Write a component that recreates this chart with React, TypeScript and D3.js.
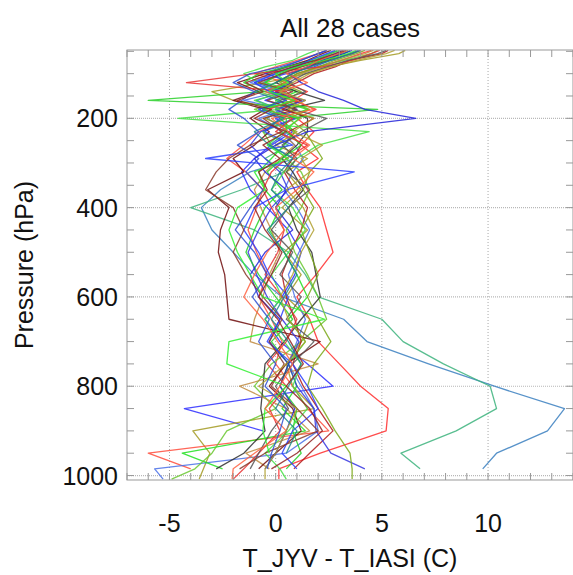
import React from "react";
import * as d3 from "d3";

// Pressure levels (hPa) shared by all profiles
const levels: number[] = [48, 55, 70, 85, 100, 120, 140, 160, 180, 200, 230, 260, 290, 320, 360, 400, 450, 500, 550, 600, 650, 700, 750, 800, 850, 900, 950, 985, 1008];

// Temperature differences T_JYV - T_IASI (C) for each case at each level (null = below surface)
const case01 = [3.4, 3.0, 2.2, 1.0, 0.3, -0.6, 0.4, -0.9, 0.2, -0.4, 0.6, -0.3, 0.9, -1.2, -2.6, -3.5, -3.0, -2.0, -1.0, 0.3, 3.2, 4.3, 7.2, 10.3, 13.6, 12.8, 10.4, 9.75, null];
const case02 = [2.9, 2.5, 1.6, 0.6, -0.4, 0.8, -0.3, 1.2, 0.0, 1.0, -0.6, 0.6, -0.5, 0.4, -1.6, -4.0, -1.0, 0.6, 1.4, 2.0, 5.0, 6.0, 7.9, 10.1, 10.4, 8.5, 5.9, 6.8, null];
const case03 = [4.5, 4.0, 3.1, 2.0, 1.0, 0.4, 1.5, 0.8, 1.9, 1.0, 1.8, 1.2, 2.0, 1.0, 1.5, 2.1, 2.4, 2.7, 1.9, 1.0, 1.6, 2.0, 3.0, 4.0, 5.3, 5.2, 2.1, 0.15, 0.15];
const case04 = [3.9, 3.5, 2.6, 1.8, 0.5, -1.0, 0.5, -0.5, 1.0, 0.0, 0.8, -0.2, -1.0, -1.6, -1.2, -0.4, 0.6, 1.2, 0.9, 0.3, -0.5, 0.2, 1.5, 2.7, -4.3, -0.6, null, null, null];
const case05 = [6.1, 5.8, 4.0, 2.5, 1.5, -0.5, -3.0, -2.0, 0.5, -0.5, 1.0, 0.0, 1.5, 0.5, 1.2, 0.3, 1.5, 0.4, 1.2, 0.5, 1.6, 1.2, 0.5, 0.8, 1.8, -3.9, -3.1, -3.4, -3.6];
const case06 = [2.4, 2.0, 1.0, 0.0, -1.0, 0.5, -0.5, 0.8, -0.3, 0.5, -0.8, -1.5, -2.3, -1.4, -0.6, -0.9, -1.3, -0.9, -0.4, -0.8, -0.2, 0.3, 0.0, 0.8, 1.5, 2.5, -6.0, -4.0, null];
const case07 = [3.1, 2.8, 1.8, 0.8, 0.0, -1.2, 0.2, -1.5, 0.5, -0.8, 0.3, 0.9, 1.3, 0.8, 0.4, 1.0, 1.6, 1.1, 0.6, 0.9, 1.4, 1.0, 0.6, 1.2, 1.8, 2.0, 0.5, -5.7, -5.3];
const case08 = [3.5, 3.2, 2.0, 1.2, 0.2, -0.5, 1.0, 0.0, 1.5, 0.2, 0.9, 0.4, -0.2, -0.8, -0.5, 0.2, -0.3, 0.4, 1.0, 1.5, 0.6, 1.4, 0.6, 1.0, 0.3, 1.4, -4.4, -2.5, null];
const case09 = [4.8, 4.5, 3.2, 2.0, 1.2, 0.0, -0.8, 0.5, -1.0, 0.3, -0.6, -0.2, 0.5, 1.2, 1.6, 1.2, 0.5, 0.9, 1.5, 2.0, 2.4, 1.2, -0.2, -1.0, 0.0, -2.3, -3.0, -3.8, -4.9];
const case10 = [3.3, 3.0, 2.5, 1.5, 0.8, 0.0, 1.0, 2.3, 0.5, 1.5, 1.5, 1.0, 0.3, 0.8, 1.3, 0.6, 1.0, 1.7, 1.9, 2.1, 1.2, 0.4, -0.5, -0.6, -0.7, -0.5, -1.5, -2.8, null];
const case11 = [4.6, 4.2, 3.0, 2.2, 1.2, 0.4, -0.5, 0.8, 0.0, 1.2, 0.2, 0.9, 0.2, -0.5, -1.0, -0.7, -0.2, 0.2, -0.3, -0.6, -1.0, -1.2, 2.0, -1.7, 0.5, 1.6, -1.4, -0.3, null];
const case12 = [5.3, 5.0, 3.5, 2.8, 1.8, 1.0, 0.0, 1.2, 0.3, 1.8, 0.6, 1.2, 0.8, 0.4, 0.9, 1.5, 1.2, 0.7, 0.3, 0.5, 0.9, 1.2, 0.8, 1.3, 2.0, 2.7, 1.6, 0.86, null];
const case13 = [2.6, 2.2, 1.5, 0.5, -0.5, -1.8, -0.8, -2.0, -0.5, -1.2, -0.3, -1.0, -2.0, -1.5, -3.2, -2.2, -2.6, -2.7, -2.4, -2.3, -2.2, 2.1, 0.5, -0.3, 0.8, 1.2, 0.0, -0.8, null];
const case14 = [2.4, 2.0, 1.2, 0.4, -0.5, 0.8, -0.2, 1.4, 0.0, 0.9, -0.7, -1.2, -0.5, 0.2, 0.6, -0.2, -0.8, -1.3, -0.9, -0.4, 0.3, 1.1, 0.6, 1.0, 1.8, 1.9, 2.6, 4.2, null];
const case15 = [4.2, 3.8, 2.8, 2.0, 1.0, 0.2, 1.2, 0.4, 1.6, 0.6, 1.4, 1.8, 2.2, 1.6, 1.3, 1.8, 1.2, 1.6, 2.0, 1.5, 2.0, 2.6, 1.8, 1.5, 2.2, 2.8, 3.5, 3.6, 3.6];
const case16 = [3.0, 2.6, 1.8, 0.5, -0.8, -1.5, -0.5, -6.0, 4.8, 0.5, 0.5, 1.2, 0.3, -0.4, 0.3, -0.5, -1.0, -1.4, -0.8, 0.0, 0.8, -0.2, 0.6, 0.2, 1.0, 0.8, 1.2, 0.5, null];
const case17 = [1.9, 1.5, 0.8, -0.5, -1.5, -0.8, 0.5, -1.0, 0.2, -4.6, 4.4, 2.0, 1.0, 0.4, -0.2, 0.8, 1.4, 0.6, -0.2, 0.3, -0.5, 0.4, 1.2, 0.8, 1.5, 0.6, -0.5, 0.2, 0.5];
const case18 = [3.6, 3.2, 2.2, 1.5, 0.6, 1.2, 2.0, 3.2, 4.2, 6.6, 1.5, 0.0, -1.0, -0.5, 0.5, 0.0, 0.8, -0.5, -1.2, -0.8, 0.2, -0.3, 0.6, 0.2, 0.9, 0.5, 0.0, -0.5, null];
const case19 = [4.9, 4.5, 3.6, 2.2, -1.0, -4.2, 0.5, 1.0, -0.5, 0.8, 0.0, 1.5, 0.5, -0.2, -0.6, -0.2, 0.4, 0.1, -0.5, 0.3, 1.0, 0.5, -0.4, 0.5, -0.3, 0.2, -0.8, -1.5, -2.0];
const case20 = [2.8, 2.4, 1.6, 0.9, 0.0, -1.0, -0.3, 0.5, -0.8, 0.2, -0.5, 0.8, -3.3, 3.7, 0.5, -1.0, -1.5, -0.8, -0.3, 0.6, 0.2, -0.4, 0.8, 1.5, 2.0, 0.8, 0.3, 1.0, null];
const case21 = [4.0, 3.6, 2.4, 1.2, 0.3, -0.8, 0.8, -0.4, 1.0, -0.6, 0.3, -1.2, -2.2, -2.8, -3.3, -2.0, -1.5, -2.0, -1.4, -0.6, 0.3, -0.3, 0.4, -0.2, 1.0, 2.0, -0.5, -1.7, null];
const case22 = [5.2, 4.8, 3.4, 2.4, 1.4, 0.6, 1.4, 0.2, 0.8, 2.4, 1.2, 0.3, 1.0, 0.5, 1.6, 0.6, -0.2, 0.8, 0.2, 1.2, 0.5, 1.8, 0.8, 0.0, 0.6, -0.2, -0.8, -1.2, null];
const case23 = [3.8, 3.4, 2.3, 1.0, 0.0, 0.6, -0.3, 0.9, -0.6, 1.1, 0.4, -0.4, 0.6, -1.0, -0.5, -1.8, -2.2, -1.8, -1.2, -0.6, 2.3, -2.2, -2.3, 0.5, -0.5, -0.6, -0.3, null, null];
const case24 = [3.4, 3.0, 2.0, 1.5, 0.5, 1.5, 0.2, 1.0, 1.8, -0.2, 0.6, 1.6, 0.8, 1.8, 1.0, 0.0, 0.4, -0.4, -1.0, -1.5, -0.6, 0.1, 0.8, 0.2, -0.5, 0.5, -1.0, -2.0, -2.05];
const case25 = [5.6, 5.2, 3.8, 2.6, 1.6, 0.8, 0.2, 1.4, 0.6, 1.8, 0.8, 2.2, 1.2, 1.6, 0.5, 1.3, 1.8, 1.2, 0.8, 0.2, 0.6, 1.4, 0.5, -0.8, 1.0, 0.5, 0.0, -0.5, -0.5];
const case26 = [4.0, 3.6, 2.6, 1.6, 0.8, 0.0, -1.0, 0.2, -0.6, 0.4, -1.0, -0.3, 0.8, 0.2, -0.2, 0.6, -0.4, 0.4, 1.0, 0.4, -0.2, 0.6, 1.2, 0.6, 0.0, 1.0, 0.5, null, null];
const case27 = [2.4, 2.0, 1.2, 0.2, -1.2, -2.0, -1.0, -1.6, -2.2, -1.5, -0.8, -1.8, -0.8, -1.4, -0.6, -1.2, -1.9, -1.0, -0.4, -1.1, -0.3, -0.8, 0.0, -0.5, 0.5, 0.2, -0.2, -0.4, null];
const case28 = [3.2, 2.8, 1.9, 0.8, -0.2, -1.4, -0.6, -1.8, -0.2, -1.0, 0.5, -0.6, 0.2, -0.8, -0.4, -1.0, -0.5, 0.3, -0.2, -0.8, 0.1, 0.7, 1.3, 0.5, 1.6, 2.2, 1.0, -0.2, null];

const cases: (number | null)[][] = [
  case01, case02, case03, case04, case05, case06, case07, case08, case09, case10,
  case11, case12, case13, case14, case15, case16, case17, case18, case19, case20,
  case21, case22, case23, case24, case25, case26, case27, case28,
];

const caseColors: string[] = [
  "#3a7fbf", "#3cb37d", "#ff2d2d", "#2b2bff", "#a39a22", "#ff4b3b", "#4a70e8", "#1ee01e",
  "#6ac830", "#2e2e2e", "#c08a40", "#b01818", "#6e0c0c", "#3535e0", "#7aa818", "#28d028",
  "#45e045", "#2222d8", "#e83232", "#2a40ff", "#8a3a2a", "#555555", "#30f030", "#ff6040",
  "#b0a030", "#208a8a", "#3050d0", "#902222",
];

const xTickValues: number[] = [-5, 0, 5, 10];
const yTickValues: number[] = [200, 400, 600, 800, 1000];
const titleText = "All 28 cases";
const xLabel = "T_JYV - T_IASI (C)";
const yLabel = "Pressure (hPa)";

const W = 573;
const H = 575;
const left = 127;
const right = 573;
const top = 50;
const bottom = 480;

export default function App() {
  const x = d3.scaleLinear().domain([-7, 14]).range([left, right]);
  const y = d3.scaleLinear().domain([47, 1010]).range([top, bottom]);

  const line = d3
    .line<[number, number | null]>()
    .defined((d) => d[1] !== null)
    .x((d) => x(d[1] as number))
    .y((d) => y(d[0]));

  const xMinor = d3.range(-7, 15, 1);
  const yMinor = d3.range(50, 1001, 50);
  const fam = "'Liberation Sans', Arial, Helvetica, sans-serif";

  return (
    <svg width={W} height={H} style={{ position: "absolute", left: 0, top: 0, background: "#fff" }}>
      <defs>
        <clipPath id="plotclip">
          <rect x={left} y={top} width={right - left} height={bottom - top} />
        </clipPath>
      </defs>
      <rect x={0} y={0} width={W} height={H} fill="#fff" />
      {xTickValues.map((v) => (
        <line key={"gx" + v} x1={x(v)} x2={x(v)} y1={top} y2={bottom} stroke="#a8a8a8" strokeDasharray="1,2" strokeWidth={1} />
      ))}
      {yTickValues.map((v) => (
        <line key={"gy" + v} x1={left} x2={right} y1={y(v)} y2={y(v)} stroke="#b8b8b8" strokeDasharray="1,1" strokeWidth={1.2} />
      ))}
      <g clipPath="url(#plotclip)">
        {cases.map((vals, i) => {
          const pts = levels.map((p, j) => [p, vals[j] ?? null] as [number, number | null]);
          return (
            <path key={i} d={line(pts) || ""} fill="none" stroke={caseColors[i]} strokeWidth={1.3} strokeOpacity={0.85} strokeLinejoin="round" />
          );
        })}
      </g>
      <rect x={left} y={top} width={right - left} height={bottom - top} fill="none" stroke="#999" strokeWidth={1} />
      {xMinor.map((v) => (
        <g key={"tx" + v}>
          <line x1={x(v)} x2={x(v)} y1={bottom} y2={bottom - 7} stroke="#999" />
          <line x1={x(v)} x2={x(v)} y1={top} y2={top + 7} stroke="#999" />
        </g>
      ))}
      {yMinor.map((v) => (
        <g key={"ty" + v}>
          <line x1={left} x2={left + 7} y1={y(v)} y2={y(v)} stroke="#999" />
          <line x1={right} x2={right - 7} y1={y(v)} y2={y(v)} stroke="#999" />
        </g>
      ))}
      {xTickValues.map((v) => (
        <text key={"lx" + v} x={x(v)} y={532} textAnchor="middle" fontFamily={fam} fontSize={25} fill="#111">
          {v}
        </text>
      ))}
      {yTickValues.map((v) => (
        <text key={"ly" + v} x={118} y={y(v) + 9} textAnchor="end" fontFamily={fam} fontSize={25} fill="#111">
          {v}
        </text>
      ))}
      <text x={(left + right) / 2} y={37} textAnchor="middle" fontFamily={fam} fontSize={26} fill="#111">
        {titleText}
      </text>
      <text x={(left + right) / 2} y={567} textAnchor="middle" fontFamily={fam} fontSize={25} fill="#111">
        {xLabel}
      </text>
      <text transform={`translate(33,${(top + bottom) / 2}) rotate(-90)`} textAnchor="middle" fontFamily={fam} fontSize={25} fill="#111">
        {yLabel}
      </text>
    </svg>
  );
}
